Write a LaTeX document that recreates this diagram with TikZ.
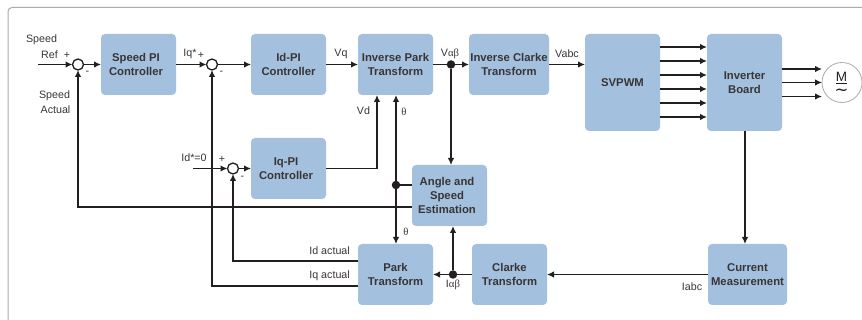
\documentclass[tikz,border=0pt]{standalone}
\usepackage{fontspec}
\setmainfont{Liberation Sans}
\newfontfamily\symbfont{Liberation Serif}
\newfontfamily\tildefont{DejaVu Sans}
\usetikzlibrary{positioning}
\usetikzlibrary{arrows.meta}

\definecolor{boxblue}{HTML}{A3C1DE}
\definecolor{inkdark}{HTML}{231F20}
\definecolor{framegrey}{HTML}{ABABAB}

\newcommand{\nudgeleft}{\hspace*{-5pt}}

\begin{document}
\begin{tikzpicture}[
                x = 1pt,
                y = -1pt,
                block/.style = {
                    fill = boxblue,
                    rounded corners = 4pt,
                    minimum width = #1,
                    minimum height = 61pt,
                    inner sep = 0pt,
                    outer sep = 0pt,
                    align = center,
                    text = inkdark!90,
                    font = \fontsize{11.3}{14}\selectfont\bfseries
                },
                block/.default = 75pt,
                sum/.style = {
                    draw = inkdark,
                    circle,
                    fill = white,
                    line width = 1.3pt,
                    minimum size = 11pt,
                    inner sep = 0pt,
                    outer sep = 0pt
                },
                dot/.style = {
                    circle,
                    fill = inkdark,
                    minimum size = 8.5pt,
                    inner sep = 0pt,
                    outer sep = 0pt
                },
                tag/.style = {
                    inner sep = 0pt,
                    text = inkdark!90,
                    font = \fontsize{10.7}{14}\selectfont
                },
                sig/.style = {
                    draw = inkdark,
                    line width = 1.3pt,
                    -{Latex[length=7pt,width=6.5pt]}
                },
                wire/.style = {
                    draw = inkdark,
                    line width = 1.3pt
                }
            ]

            \useasboundingbox (0,0) rectangle (862,320);
            \draw[framegrey, line width = 1pt, rounded corners = 4pt] (8,320) -- (8,7.5) -- (862,7.5);

            % top row
            \node[block] (speedpi) at (138.5,64.5) {\nudgeleft Speed PI\\\nudgeleft Controller};
            \node[block] (idpi) [right=75pt of speedpi] {Id-PI\\Controller};
            \node[block] (invpark) [right=32pt of idpi] {Inverse Park\\Transform};
            \node[block=80pt] (invclarke) [right=36pt of invpark] {Inverse Clarke\\Transform};
            \node[block, minimum height=97pt] (svpwm) at (622.5,82.5) {SVPWM};
            \node[block, minimum height=97pt] (inverter) [right=47pt of svpwm] {Inverter\\Board};
            \node[draw=framegrey, circle, line width=0.8pt, minimum size=40pt, inner sep=0pt, outer sep=0pt] (motor) at (842,82.5) {};
            \node[inner sep=0pt, align=center, text=inkdark, font=\fontsize{13.5}{14}\selectfont] (motorm) at (841.5,84) {\underline{M}\\{\fontsize{16.5}{14}\selectfont\tildefont ∼}};

            % middle and bottom rows
            \node[block] (iqpi) at (288.5,168.5) {\nudgeleft Iq-PI\\\nudgeleft Controller};
            \node[block] (angle) at (449.5,195.5) {\nudgeleft Angle and\\\nudgeleft Speed\\\nudgeleft Estimation};
            \node[block] (park) at (395.5,274.5) {Park\\Transform};
            \node[block] (clarke) [right=39pt of park] {Clarke\\Transform};
            \node[block=79pt] (current) at (747.5,274.5) {Current\\Measurement};

            % summing points and junctions
            \node[sum] (s1) at (78,64.5) {};
            \node[sum] (s2) at (212,64.5) {};
            \node[sum] (s3) at (233,168.5) {};
            \node[dot] (valbe) at (451,64.5) {};
            \node[dot] (theta) at (396,185) {};
            \node[dot] (ialbe) at (453,274.5) {};

            \coordinate (refin) at (38,64.5);
            \coordinate (idin) at (193,168.5);

            % forward path
            \draw[sig] (refin) -- (s1);
            \draw[sig] (s1) -- (speedpi);
            \draw[sig] (speedpi) -- (s2);
            \draw[sig] (s2) -- (idpi);
            \draw[sig] (idpi) -- (invpark);
            \draw[wire] (invpark) -- (valbe);
            \draw[sig] (valbe) -- (invclarke);
            \draw[sig] (invclarke.east) -- (svpwm.west |- invclarke.east);
            \draw[sig] (idin) -- (s3);
            \draw[sig] (s3) -- (iqpi);
            \draw[sig] (iqpi.east) -| ([xshift=-18.5pt]invpark.south);

            % gate signals
            \draw[sig] ([yshift=35.5pt]svpwm.east) -- ([yshift=35.5pt]inverter.west);
            \draw[sig] ([yshift=21.5pt]svpwm.east) -- ([yshift=21.5pt]inverter.west);
            \draw[sig] ([yshift=7.5pt]svpwm.east) -- ([yshift=7.5pt]inverter.west);
            \draw[sig] ([yshift=-6.5pt]svpwm.east) -- ([yshift=-6.5pt]inverter.west);
            \draw[sig] ([yshift=-20.5pt]svpwm.east) -- ([yshift=-20.5pt]inverter.west);
            \draw[sig] ([yshift=-34.5pt]svpwm.east) -- ([yshift=-34.5pt]inverter.west);

            % motor phases
            \draw[sig] ([yshift=13.5pt]inverter.east) -- ++(40,0);
            \draw[sig] (inverter.east) -- ++(40,0);
            \draw[sig] ([yshift=-14pt]inverter.east) -- ++(40,0);

            % feedback
            \draw[sig] ([xshift=0.5pt]inverter.south) -- ([xshift=0.5pt]inverter.south |- current.north);
            \draw[sig] (current) -- (clarke);
            \draw[wire] (clarke) -- (ialbe);
            \draw[sig] (ialbe) -- (park);
            \draw[sig] (ialbe) -- (ialbe |- angle.south);
            \draw[sig] (valbe) -- (valbe |- angle.north);
            \draw[wire] (angle.west |- theta) -- (theta);
            \draw[sig] (theta) -- (theta |- invpark.south);
            \draw[sig] (theta) -- (theta |- park.north);
            \draw[sig] ([yshift=-11.5pt]angle.west) -| (s1);
            \draw[sig] ([yshift=13.5pt]park.west) -| (s3);
            \draw[sig] ([yshift=-11.5pt]park.west) -| (s2);

            % labels
            \node[tag] (speedlbl) at (41.5,40) {Speed};
            \node[tag] (reflbl) at (49.5,54.5) {Ref};
            \node[tag] (refplus) at (67,55) {+};
            \node[tag] (s1minus) at (87.5,72.5) {-};
            \node[tag] (speedact) at (54.5,96) {Speed};
            \node[tag] (actlbl) at (55.5,110) {Actual};
            \node[tag] (iqstar) at (190,54) {Iq*};
            \node[tag] (s2plus) at (201,55) {+};
            \node[tag] (s2minus) at (221.5,72.5) {-};
            \node[tag] (vqlbl) at (341,54) {Vq};
            \node[tag] (vdlbl) at (363.5,111) {Vd};
            \node[tag] (thetaup) at (404,112) {\symbfont θ};
            \node[tag] (valbelbl) at (450,54) {V{\symbfont αβ}};
            \node[tag] (vabclbl) at (567,54) {Vabc};
            \node[tag] (idstar) at (194,158) {Id*=0};
            \node[tag] (s3plus) at (222,159) {+};
            \node[tag] (s3minus) at (242.5,177.5) {-};
            \node[tag] (thetadn) at (406,232) {\symbfont θ};
            \node[tag, anchor=east] (idact) at (350,251) {Id actual};
            \node[tag, anchor=east] (iqact) at (350,276) {Iq actual};
            \node[tag] (ialbelbl) at (453,285) {I{\symbfont αβ}};
            \node[tag] (iabclbl) at (692,287) {Iabc};

         \end{tikzpicture}
\end{document}
